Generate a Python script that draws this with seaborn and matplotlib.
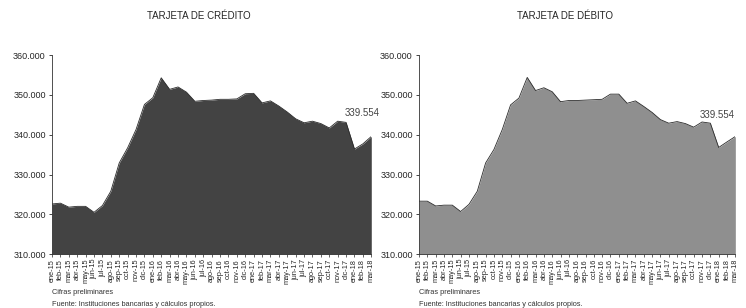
import numpy as np
import pandas as pd
import matplotlib
matplotlib.use("Agg")
import matplotlib.pyplot as plt
import seaborn as sns
from matplotlib.ticker import FuncFormatter

# DATA (miles de tarjetas)

meses = ["ene-15", "feb-15", "mar-15", "abr-15", "may-15", "jun-15", "jul-15",
         "ago-15", "sep-15", "oct-15", "nov-15", "dic-15", "ene-16", "feb-16",
         "mar-16", "abr-16", "may-16", "jun-16", "jul-16", "ago-16", "sep-16",
         "oct-16", "nov-16", "dic-16", "ene-17", "feb-17", "mar-17", "abr-17",
         "may-17", "jun-17", "jul-17", "ago-17", "sep-17", "oct-17", "nov-17",
         "dic-17", "ene-18", "feb-18", "mar-18"]

credito = [322.6, 322.8, 321.8, 322.0, 322.0, 320.5, 322.2, 325.8, 332.9, 336.7,
           341.3, 347.6, 349.3, 354.3, 351.4, 352.0, 350.7, 348.4, 348.6, 348.7,
           348.9, 348.9, 349.0, 350.3, 350.4, 348.0, 348.5, 347.2, 345.7, 344.0,
           343.0, 343.4, 342.8, 341.7, 343.4, 343.1, 336.4, 337.7, 339.554]

debito = [323.3, 323.3, 322.1, 322.3, 322.3, 320.7, 322.5, 325.8, 332.9, 336.3,
          341.3, 347.5, 349.2, 354.4, 351.1, 351.8, 350.8, 348.3, 348.6, 348.6,
          348.7, 348.8, 348.9, 350.2, 350.2, 347.9, 348.5, 347.1, 345.6, 343.8,
          342.9, 343.3, 342.8, 341.9, 343.2, 342.9, 336.8, 338.2, 339.554]

titulos = ["TARJETA DE CRÉDITO", "TARJETA DE DÉBITO"]
colores = ["#434343", "#8f8f8f"]

sns.set_style("ticks")
plt.rcParams['font.family'] = ['Liberation Sans', 'DejaVu Sans']

fig = plt.figure(figsize=(7.46, 3.08), dpi=100)
ax1 = fig.add_axes([0.0697, 0.175, 0.428, 0.646])
ax2 = fig.add_axes([0.5617, 0.175, 0.424, 0.646])

fmt = FuncFormatter(lambda v, p: f"{v:.3f}")

for ax, serie, titulo, color in zip([ax1, ax2], [credito, debito], titulos, colores):
    df = pd.DataFrame({"x": np.arange(len(meses)), "valor": serie})
    ax.fill_between(df["x"], 310, df["valor"], color=color, linewidth=0)
    sns.lineplot(data=df, x="x", y="valor", ax=ax, color="#2a2a2a", linewidth=0.6)
    ax.set_xlim(0, len(meses) - 1)
    ax.set_ylim(310, 360)
    ax.set_yticks([310, 320, 330, 340, 350, 360])
    ax.yaxis.set_major_formatter(fmt)
    ax.set_xticks(df["x"])
    ax.set_xticklabels(meses, rotation=90, fontsize=5.3)
    ax.tick_params(axis="y", labelsize=6.5, length=2.5, width=0.6, pad=2)
    ax.tick_params(axis="x", length=2, width=0.5, pad=1.5)
    ax.set_xlabel("")
    ax.set_ylabel("")
    sns.despine(ax=ax)
    for s in ["left", "bottom"]:
        ax.spines[s].set_linewidth(0.6)
        ax.spines[s].set_color("#333333")
    ax.set_title(titulo, fontsize=7, pad=26, x=0.46)

# etiqueta del ultimo dato
ax1.text(len(meses) - 4.2, 344.8, f"{credito[-1]:.3f}", fontsize=7,
         color="#444444", clip_on=False)
ax2.text(len(meses) - 1.1, 344.3, f"{debito[-1]:.3f}", fontsize=7,
         color="#444444", ha="right")

for x0 in [0.0697, 0.5617]:
    fig.text(x0, 0.047, "Cifras preliminares", fontsize=5.3, color="#333333")
    fig.text(x0, 0.008, "Fuente: Instituciones bancarias y cálculos propios.",
             fontsize=5.3, color="#333333")

plt.savefig("out.png", dpi=100)
